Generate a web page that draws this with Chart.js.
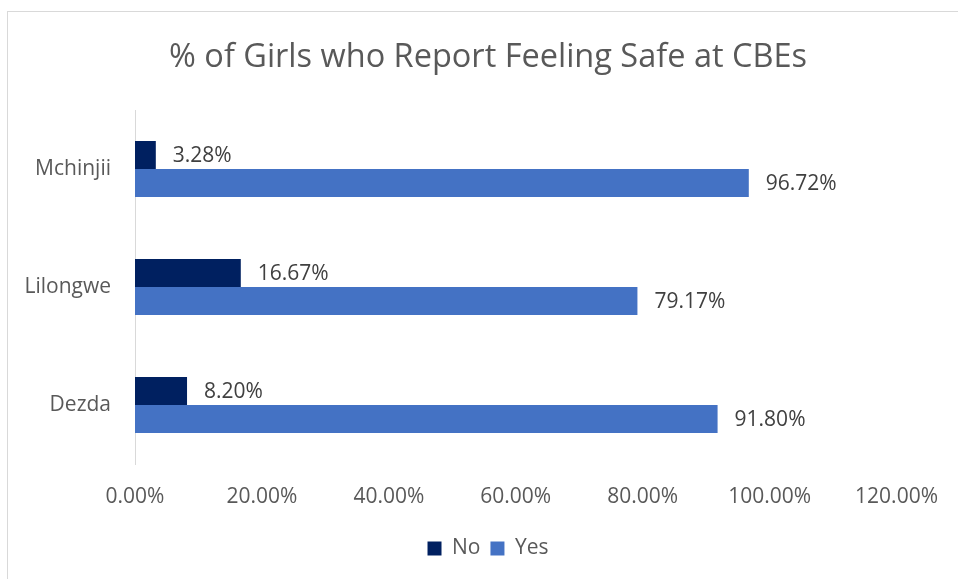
<!DOCTYPE html>
<html>
<head>
<meta charset="utf-8">
<script src="https://cdn.jsdelivr.net/npm/chart.js@4"></script>
<style>
  html, body { margin: 0; padding: 0; background: #fff; }
  #wrap { position: relative; width: 958px; height: 579px; overflow: hidden; }
  #frame { position: absolute; left: 7px; top: 11px; width: 1000px; height: 700px;
           border-left: 1px solid #d9d9d9; border-top: 1px solid #d9d9d9; pointer-events: none; }
  canvas { position: absolute; left: 0; top: 0; }
</style>
</head>
<body>
<div id="wrap">
  <canvas id="chart" width="958" height="579"></canvas>
  <div id="frame"></div>
</div>
<script>
// Chart data
const districts = ['Mchinjii', 'Lilongwe', 'Dezda'];
const noValues = [3.28, 16.67, 8.20];
const yesValues = [96.72, 79.17, 91.80];
const xTicks = [0, 20, 40, 60, 80, 100, 120];

const FONT = "'Open Sans', sans-serif";

// Draw value labels to the right of each bar
const valueLabels = {
  id: 'valueLabels',
  afterDatasetsDraw(chart) {
    const ctx = chart.ctx;
    ctx.save();
    ctx.font = '21px ' + FONT;
    ctx.fillStyle = '#404040';
    ctx.textAlign = 'left';
    ctx.textBaseline = 'middle';
    chart.data.datasets.forEach((ds, i) => {
      chart.getDatasetMeta(i).data.forEach((bar, j) => {
        ctx.fillText(ds.data[j].toFixed(2) + '%', bar.x + 17, bar.y + 1);
      });
    });
    ctx.restore();
  }
};

new Chart(document.getElementById('chart').getContext('2d'), {
  type: 'bar',
  data: {
    labels: districts,
    datasets: [
      { label: 'No', data: noValues, backgroundColor: '#002060' },
      { label: 'Yes', data: yesValues, backgroundColor: '#4472C4' }
    ]
  },
  options: {
    indexAxis: 'y',
    responsive: false,
    animation: false,
    layout: { padding: { left: 18, right: 0, top: 0, bottom: 10 } },
    datasets: { bar: { categoryPercentage: 0.475, barPercentage: 1 } },
    scales: {
      x: {
        min: 0,
        max: 120,
        afterBuildTicks(scale) { scale.ticks = xTicks.map((v) => ({ value: v })); },
        afterFit(scale) { scale.height = 64; },
        grid: { display: false, drawTicks: false },
        border: { display: false },
        ticks: {
          padding: 20,
          color: '#595959',
          font: { family: FONT, size: 21 },
          callback: (v) => Number(v).toFixed(2) + '%'
        }
      },
      y: {
        afterFit(scale) { scale.width = 117; },
        grid: { display: false, drawTicks: false },
        border: { display: true, color: '#d9d9d9', width: 1 },
        ticks: {
          padding: 24,
          color: '#595959',
          font: { family: FONT, size: 21 }
        }
      },
      // empty right-hand margin so the title and legend centre on the whole frame
      yRight: {
        type: 'category',
        position: 'right',
        labels: [],
        afterFit(scale) { scale.width = 61; },
        grid: { display: false, drawTicks: false },
        border: { display: false },
        ticks: { display: false }
      }
    },
    plugins: {
      title: {
        display: true,
        text: '% of Girls who Report Feeling Safe at CBEs',
        color: '#595959',
        font: { family: FONT, size: 32.5, weight: 'normal' },
        padding: { top: 38, bottom: 33 }
      },
      legend: {
        position: 'bottom',
        labels: {
          boxWidth: 14,
          boxHeight: 14,
          padding: 10,
          color: '#595959',
          font: { family: FONT, size: 21 }
        }
      },
      tooltip: { enabled: false }
    }
  },
  plugins: [valueLabels]
});
</script>
</body>
</html>
